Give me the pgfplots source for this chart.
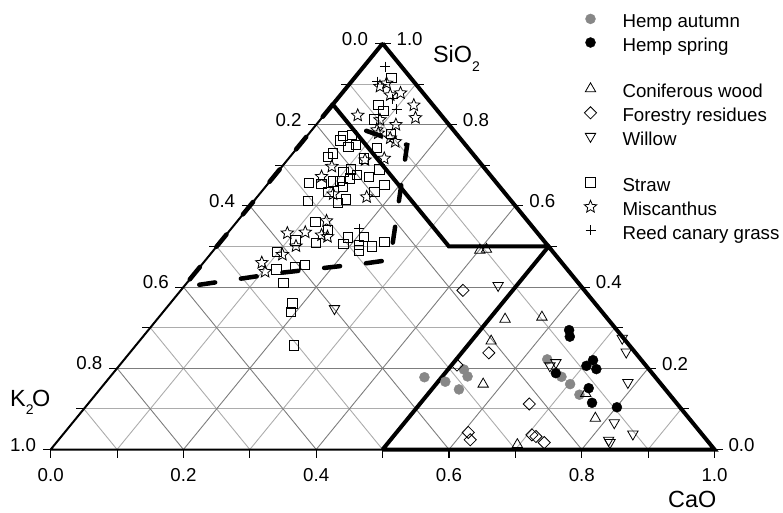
\documentclass[border=0pt]{standalone}
\usepackage{fontspec}
\setmainfont{Liberation Sans}
\usepackage{pgfplots}
\usepackage{pgfplotstable}
\pgfplotsset{compat=1.18}
\usetikzlibrary{plotmarks}
\definecolor{hempgray}{RGB}{135,135,135}
\definecolor{gridmaj}{RGB}{125,125,125}
\definecolor{gridmin}{RGB}{172,172,172}

\pgfdeclareplotmark{ostar}{%
 \pgfpathmoveto{\pgfqpoint{0pt}{\pgfplotmarksize}}%
 \pgfpathlineto{\pgfqpoint{-0.265\pgfplotmarksize}{0.364\pgfplotmarksize}}%
 \pgfpathlineto{\pgfqpoint{-0.951\pgfplotmarksize}{0.309\pgfplotmarksize}}%
 \pgfpathlineto{\pgfqpoint{-0.428\pgfplotmarksize}{-0.139\pgfplotmarksize}}%
 \pgfpathlineto{\pgfqpoint{-0.588\pgfplotmarksize}{-0.809\pgfplotmarksize}}%
 \pgfpathlineto{\pgfqpoint{0pt}{-0.45\pgfplotmarksize}}%
 \pgfpathlineto{\pgfqpoint{0.588\pgfplotmarksize}{-0.809\pgfplotmarksize}}%
 \pgfpathlineto{\pgfqpoint{0.428\pgfplotmarksize}{-0.139\pgfplotmarksize}}%
 \pgfpathlineto{\pgfqpoint{0.951\pgfplotmarksize}{0.309\pgfplotmarksize}}%
 \pgfpathlineto{\pgfqpoint{0.265\pgfplotmarksize}{0.364\pgfplotmarksize}}%
 \pgfpathclose
 \pgfusepathqstroke
}

\tikzset{
  tk/.style={black, line width=1.1pt},
  lab/.style={inner sep=0pt, font=\fontsize{18.7}{22}\selectfont},
  ttl/.style={inner sep=0pt, font=\fontsize{23.4}{26}\selectfont},
}
\pgfplotsset{table/tern/.style={x expr=\thisrow{c}+0.5*\thisrow{s}, y expr=\thisrow{s}}}

% ternary data: c = CaO, s = SiO2 (K2O = 1 - c - s)
\pgfplotstableread{
c s
0.474 0.178
0.511 0.167
0.524 0.197
0.538 0.180
0.541 0.148
0.637 0.222
0.680 0.179
0.702 0.161
0.729 0.135
}\hempautumn
\pgfplotstableread{
c s
0.634 0.294
0.643 0.278
0.667 0.188
0.704 0.206
0.707 0.220
0.723 0.198
0.735 0.151
0.758 0.115
0.801 0.104
}\hempspring
\pgfplotstableread{
c s
0.401 0.491
0.410 0.493
0.524 0.321
0.577 0.326
0.530 0.267
0.571 0.161
0.737 0.138
0.782 0.077
0.697 0.012
}\conif
\pgfplotstableread{
c s
0.425 0.392
0.541 0.238
0.508 0.208
0.665 0.112
0.608 0.042
0.620 0.024
0.707 0.036
0.715 0.032
0.735 0.017
}\forest
\pgfplotstableread{
c s
0.254 0.347
0.472 0.404
0.654 0.214
0.649 0.206
0.724 0.274
0.747 0.240
0.787 0.165
0.816 0.066
0.858 0.038
0.829 0.023
0.834 0.017
}\willow
\pgfplotstableread{
c s
0.056 0.915
0.069 0.849
0.084 0.834
0.080 0.813
0.066 0.775
0.054 0.773
0.056 0.761
0.085 0.750
0.076 0.745
0.120 0.743
0.124 0.777
0.113 0.717
0.061 0.729
0.058 0.720
0.107 0.690
0.099 0.684
0.150 0.690
0.143 0.672
0.117 0.668
0.123 0.676
0.105 0.662
0.095 0.660
0.081 0.654
0.061 0.656
0.117 0.647
0.177 0.651
0.101 0.635
0.170 0.635
0.137 0.616
0.129 0.608
0.081 0.613
0.118 0.561
0.147 0.541
0.111 0.515
0.145 0.509
0.187 0.522
0.188 0.506
0.210 0.523
0.212 0.504
0.219 0.490
0.234 0.500
0.247 0.511
0.098 0.486
0.118 0.444
0.143 0.450
0.156 0.454
0.145 0.411
0.184 0.360
0.192 0.339
0.238 0.256
}\straw
\pgfplotstableread{
c s
0.049 0.894
0.055 0.902
0.075 0.873
0.088 0.878
0.123 0.848
0.141 0.817
0.051 0.823
0.090 0.812
0.120 0.800
0.098 0.787
0.104 0.779
0.128 0.767
0.140 0.758
0.117 0.713
0.144 0.717
0.075 0.697
0.072 0.672
0.111 0.629
0.165 0.622
0.134 0.563
0.144 0.528
0.155 0.524
0.090 0.533
0.116 0.535
0.119 0.501
0.109 0.480
0.088 0.460
0.104 0.438
}\miscanthus
\pgfplotstableread{
c s
0.032 0.943
0.039 0.906
0.083 0.864
0.102 0.838
0.193 0.544
}\reed

\begin{document}
\begin{tikzpicture}
\begin{axis}[
  width=663.8pt, height=406pt, scale only axis,
  xmin=0, xmax=1, ymin=0, ymax=1,
  axis lines=none, clip=false,
  legend image code/.code={\path[draw=none, fill=none] (-6.5pt,1pt) rectangle (6.5pt,12.4pt); \draw[#1] plot coordinates {(0pt,6.7pt)};},
  legend cell align=left,
  legend style={draw=none, fill=none, inner sep=0pt, outer sep=0pt,
    at={(rel axis cs:0.8034,1.0746)}, anchor=north west,
    row sep=0pt,
    nodes={inner sep=0pt, outer sep=0pt, text height=13.5pt, text depth=8.9pt, font=\fontsize{18.7}{22}\selectfont},
    /tikz/every odd column/.append style={column sep=25.5pt}},
]
% grid
\pgfplotsinvokeforeach{1,3,5,7,9}{
  \draw[gridmin, line width=0.9pt] (axis cs:{#1/20},{#1/10}) -- (axis cs:{1-#1/20},{#1/10});
  \draw[gridmin, line width=0.9pt] (axis cs:{#1/10},0) -- (axis cs:{0.5+#1/20},{1-#1/10});
  \draw[gridmin, line width=0.9pt] (axis cs:{1-#1/10},0) -- (axis cs:{0.5-#1/20},{1-#1/10});
}
\pgfplotsinvokeforeach{2,4,6,8}{
  \draw[gridmaj, line width=0.9pt] (axis cs:{#1/20},{#1/10}) -- (axis cs:{1-#1/20},{#1/10});
  \draw[gridmaj, line width=0.9pt] (axis cs:{#1/10},0) -- (axis cs:{0.5+#1/20},{1-#1/10});
  \draw[gridmaj, line width=0.9pt] (axis cs:{1-#1/10},0) -- (axis cs:{0.5-#1/20},{1-#1/10});
}
% ticks
\pgfplotsinvokeforeach{0,...,10}{
  \draw[tk] (axis cs:{#1/10},0) -- ++(0,-8pt);
  \draw[tk] (axis cs:{0.5-#1/20},{1-#1/10}) -- ++(-8pt,0);
  \draw[tk] (axis cs:{1-#1/20},{#1/10}) -- ++(8pt,0);
}
% outline
\addplot[black, line width=2pt, forget plot] table[tern] {
c s
0 0
1 0
0 1
0 0
};
% regions
\addplot[black, line width=4pt, forget plot] table[tern] {
c s
0 1
0 0.85
0.35 0.5
0.5 0.5
0 1
};
\addplot[black, line width=4pt, forget plot] table[tern] {
c s
0.5 0
1 0
0.5 0.5
0.5 0
};
\addplot[black, line width=4.5pt, line cap=round, dash pattern=on 16pt off 26pt, forget plot] table[tern] {
c s
0 0.85
0 0.40
0.128 0.435
0.247 0.459
0.278 0.467
0.162 0.750
0.051 0.799
};
% data
\addplot[only marks, mark=*, mark size=5pt, color=hempgray] table[tern] {\hempautumn};
\addlegendentry{Hemp autumn}
\addplot[only marks, mark=*, mark size=5pt, color=black] table[tern] {\hempspring};
\addlegendentry{Hemp spring}
\addlegendimage{empty legend}\addlegendentry{}
\addplot[only marks, mark=triangle, mark size=6pt, mark options={line width=0.8pt}, black] table[tern] {\conif};
\addlegendentry{Coniferous wood}
\addplot[only marks, mark=square, mark size=4.3pt, mark options={rotate=45, line width=0.8pt}, black] table[tern] {\forest};
\addlegendentry{Forestry residues}
\addplot[only marks, mark=triangle, mark size=6pt, mark options={rotate=180, line width=0.8pt}, black] table[tern] {\willow};
\addlegendentry{Willow}
\addlegendimage{empty legend}\addlegendentry{}
\addplot[only marks, mark=square, mark size=4.7pt, mark options={line width=0.8pt}, black] table[tern] {\straw};
\addlegendentry{Straw}
\addplot[only marks, mark=ostar, mark size=6.5pt, mark options={line width=0.8pt}, black] table[tern] {\miscanthus};
\addlegendentry{Miscanthus}
\addplot[only marks, mark=+, mark size=5pt, mark options={line width=0.8pt}, black] table[tern] {\reed};
\addlegendentry{Reed canary grass}
% tick labels
\node[lab, anchor=base] at ([yshift=-32pt]axis cs:0,0) {0.0};
\node[lab, anchor=base] at ([yshift=-32pt]axis cs:0.2,0) {0.2};
\node[lab, anchor=base] at ([yshift=-32pt]axis cs:0.4,0) {0.4};
\node[lab, anchor=base] at ([yshift=-32pt]axis cs:0.6,0) {0.6};
\node[lab, anchor=base] at ([yshift=-32pt]axis cs:0.8,0) {0.8};
\node[lab, anchor=base] at ([yshift=-32pt]axis cs:1,0) {1.0};
\node[lab, anchor=base east] at ([xshift=-14.5pt,yshift=-1.7pt]axis cs:0.5,1) {0.0};
\node[lab, anchor=base east] at ([xshift=-14.5pt,yshift=-1.7pt]axis cs:0.4,0.8) {0.2};
\node[lab, anchor=base east] at ([xshift=-14.5pt,yshift=-1.7pt]axis cs:0.3,0.6) {0.4};
\node[lab, anchor=base east] at ([xshift=-14.5pt,yshift=-1.7pt]axis cs:0.2,0.4) {0.6};
\node[lab, anchor=base east] at ([xshift=-14.5pt,yshift=-1.7pt]axis cs:0.1,0.2) {0.8};
\node[lab, anchor=base east] at ([xshift=-14.5pt,yshift=-1.7pt]axis cs:0,0) {1.0};
\node[lab, anchor=base west] at ([xshift=13.8pt,yshift=-1.8pt]axis cs:0.5,1) {1.0};
\node[lab, anchor=base west] at ([xshift=13.8pt,yshift=-1.8pt]axis cs:0.6,0.8) {0.8};
\node[lab, anchor=base west] at ([xshift=13.8pt,yshift=-1.8pt]axis cs:0.7,0.6) {0.6};
\node[lab, anchor=base west] at ([xshift=13.8pt,yshift=-1.8pt]axis cs:0.8,0.4) {0.4};
\node[lab, anchor=base west] at ([xshift=13.8pt,yshift=-1.8pt]axis cs:0.9,0.2) {0.2};
\node[lab, anchor=base west] at ([xshift=13.8pt,yshift=-1.8pt]axis cs:1,0) {0.0};
% axis titles
\node[ttl, anchor=base west] at ([xshift=50.3pt,yshift=-18.7pt]axis cs:0.5,1) {SiO\raisebox{-9.5pt}{\fontsize{14}{14}\selectfont 2}};
\node[ttl, anchor=base west] at ([xshift=-40.7pt,yshift=42.8pt]axis cs:0,0) {K\raisebox{-8pt}{\fontsize{14}{14}\selectfont 2}\kern-1.5pt O};
\node[ttl, anchor=base west] at ([xshift=-46.5pt,yshift=-57.8pt]axis cs:1,0) {CaO};
\end{axis}
\pgfresetboundingbox
\path[use as bounding box] (-50.7pt,-63.5pt) rectangle (732.3pt,449.5pt);
\end{tikzpicture}
\end{document}
